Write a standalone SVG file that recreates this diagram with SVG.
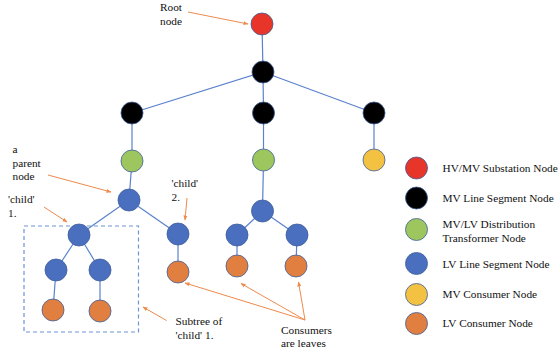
<svg xmlns="http://www.w3.org/2000/svg" width="558" height="358" viewBox="0 0 558 358">
<defs>
<style>
.e{stroke:#5B82CC;stroke-width:1.2;fill:none}
.n{stroke:#3F5E9A;stroke-width:0.8}
.red{fill:#E8352A}.blk{fill:#000}.grn{fill:#9DC75E}.blu{fill:#4A6FBE}.yel{fill:#F4C242}.org{fill:#E07F3F}
.t{font-family:"Liberation Serif","Times New Roman",serif;font-size:11.3px;fill:#111}
.a{stroke:#EE8A4C;stroke-width:1;fill:none;marker-end:url(#ah)}
</style>
<marker id="ah" viewBox="0 0 10 10" refX="9" refY="5" markerWidth="5" markerHeight="5" orient="auto" markerUnits="userSpaceOnUse">
<path d="M0,1 L10,5 L0,9 z" fill="#EE8A4C"/>
</marker>
</defs>
<rect width="558" height="358" fill="#fff"/>
<g id="connectors">
<line class="e" x1="262" y1="24" x2="263" y2="72"/>
<line class="e" x1="263" y1="72" x2="132" y2="113"/>
<line class="e" x1="263" y1="72" x2="263.5" y2="113"/>
<line class="e" x1="263" y1="72" x2="374" y2="113"/>
<line class="e" x1="132" y1="113" x2="132" y2="161"/>
<line class="e" x1="263.5" y1="113" x2="263.5" y2="160"/>
<line class="e" x1="374" y1="113" x2="374" y2="160"/>
<line class="e" x1="132" y1="161" x2="129" y2="200"/>
<line class="e" x1="129" y1="200" x2="79" y2="235"/>
<line class="e" x1="129" y1="200" x2="178" y2="234"/>
<line class="e" x1="79" y1="235" x2="56" y2="270"/>
<line class="e" x1="79" y1="235" x2="100" y2="270"/>
<line class="e" x1="56" y1="270" x2="53" y2="310"/>
<line class="e" x1="100" y1="270" x2="100" y2="311"/>
<line class="e" x1="178" y1="234" x2="178" y2="272"/>
<line class="e" x1="263.5" y1="160" x2="262.5" y2="211"/>
<line class="e" x1="262.5" y1="211" x2="237" y2="235"/>
<line class="e" x1="262.5" y1="211" x2="297" y2="235"/>
<line class="e" x1="237" y1="235" x2="237" y2="266"/>
<line class="e" x1="297" y1="235" x2="296" y2="266"/>
</g>
<g id="subtree-box"><rect x="24" y="226" width="114.5" height="106" fill="none" stroke="#6E93D6" stroke-width="1.2" stroke-dasharray="4,3"/></g>
<g id="n-root"><circle class="n red" cx="262" cy="24" r="11"/></g>
<g id="n-mv1"><circle class="n blk" cx="263" cy="72" r="11"/></g>
<g id="n-mv2"><circle class="n blk" cx="132" cy="113" r="11"/></g>
<g id="n-mv3"><circle class="n blk" cx="263.5" cy="113" r="11"/></g>
<g id="n-mv4"><circle class="n blk" cx="374" cy="113" r="11"/></g>
<g id="n-tr1"><circle class="n grn" cx="132" cy="161" r="11"/></g>
<g id="n-tr2"><circle class="n grn" cx="263.5" cy="160" r="11"/></g>
<g id="n-mvc"><circle class="n yel" cx="374" cy="160" r="11"/></g>
<g id="n-parent"><circle class="n blu" cx="129" cy="200" r="11"/></g>
<g id="n-child1"><circle class="n blu" cx="79" cy="235" r="11"/></g>
<g id="n-child2"><circle class="n blu" cx="178" cy="234" r="11"/></g>
<g id="n-lv1"><circle class="n blu" cx="56" cy="270" r="11"/></g>
<g id="n-lv2"><circle class="n blu" cx="100" cy="270" r="11"/></g>
<g id="n-c1"><circle class="n org" cx="53" cy="310" r="11"/></g>
<g id="n-c2"><circle class="n org" cx="100" cy="311" r="11"/></g>
<g id="n-c3"><circle class="n org" cx="178" cy="272" r="11"/></g>
<g id="n-lv3"><circle class="n blu" cx="262.5" cy="211" r="11"/></g>
<g id="n-lv4"><circle class="n blu" cx="237" cy="235" r="11"/></g>
<g id="n-lv5"><circle class="n blu" cx="297" cy="235" r="11"/></g>
<g id="n-c4"><circle class="n org" cx="237" cy="266" r="11"/></g>
<g id="n-c5"><circle class="n org" cx="296" cy="266" r="11"/></g>
<g id="annotations">
<text class="t" x="160" y="11">Root</text>
<text class="t" x="160" y="24.5">node</text>
<line class="a" x1="188" y1="12" x2="248" y2="24"/>
<text class="t" x="12.5" y="153">a</text>
<text class="t" x="12.5" y="166.5">parent</text>
<text class="t" x="12.5" y="180">node</text>
<line class="a" x1="48" y1="175" x2="111" y2="192"/>
<text class="t" x="8" y="203">'child'</text>
<text class="t" x="8" y="216.5">1.</text>
<line class="a" x1="44" y1="207" x2="67" y2="222"/>
<text class="t" x="171.5" y="187">'child'</text>
<text class="t" x="171.5" y="201">2.</text>
<line class="a" x1="187" y1="198" x2="185" y2="220"/>
<text class="t" x="175.5" y="325">Subtree of</text>
<text class="t" x="175.5" y="338.5">'child'  1.</text>
<line class="a" x1="166.5" y1="320.5" x2="143" y2="307"/>
<text class="t" x="281" y="334">Consumers</text>
<text class="t" x="281" y="347">are leaves</text>
<line class="a" x1="305" y1="320" x2="185" y2="283"/>
<line class="a" x1="305" y1="320" x2="241" y2="283.5"/>
<line class="a" x1="305" y1="320" x2="298.5" y2="282"/>
</g>
<g id="legend">
<circle class="n red" cx="416.5" cy="168" r="11"/>
<text class="t" x="442.5" y="172">HV/MV Substation Node</text>
<circle class="n blk" cx="416.5" cy="198" r="11"/>
<text class="t" x="442.5" y="202">MV Line Segment Node</text>
<circle class="n grn" cx="416.5" cy="229.5" r="11"/>
<text class="t" x="442.5" y="228">MV/LV Distribution</text>
<text class="t" x="442.5" y="241.5">Transformer Node</text>
<circle class="n blu" cx="416.5" cy="263.5" r="11"/>
<text class="t" x="442.5" y="267.5">LV Line Segment Node</text>
<circle class="n yel" cx="416.5" cy="294.5" r="11"/>
<text class="t" x="442.5" y="298">MV Consumer Node</text>
<circle class="n org" cx="416.5" cy="323.5" r="11"/>
<text class="t" x="442.5" y="327">LV Consumer Node</text>
</g>
</svg>
